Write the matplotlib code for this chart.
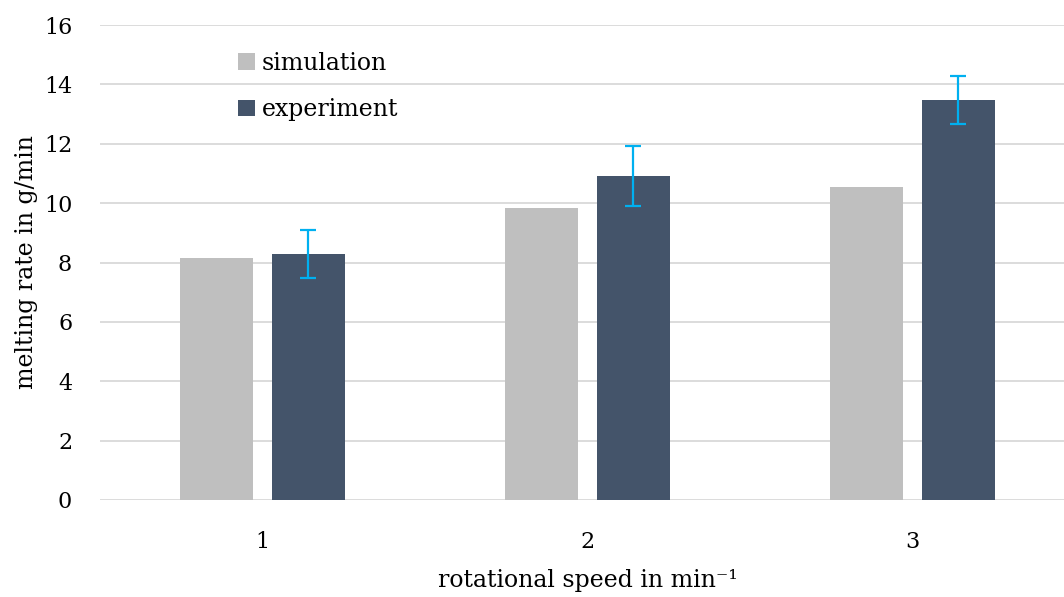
import numpy as np
import matplotlib
matplotlib.use("Agg")
import matplotlib.pyplot as plt
from matplotlib.patches import Rectangle

plt.rcParams['font.family'] = ['DejaVu Serif']

# data
speeds = ["1", "2", "3"]
simulation = [8.15, 9.83, 10.54]
experiment = [8.29, 10.91, 13.47]
exp_err = [0.8, 1.0, 0.8]

fig = plt.figure(figsize=(10.64, 5.97), dpi=100)
ax = fig.add_axes([100 / 1064, 97 / 597, 975 / 1064, 475 / 597])

x = np.arange(1, len(speeds) + 1)
w = 0.222
off = 0.1415
ax.bar(x - off, simulation, w, color="#BFBFBF", label="simulation", zorder=3)
ax.bar(x + off, experiment, w, color="#44546A", label="experiment", zorder=3)
ax.errorbar(x + off, experiment, yerr=exp_err, fmt="none", ecolor="#00B0F0",
            elinewidth=1.6, capsize=6, capthick=1.6, zorder=4)

ax.set_xlim(0.5, 3.5)
ax.set_ylim(0, 16)
ax.set_yticks(np.arange(0, 17, 2))
ax.set_xticks(x)
ax.set_xticklabels(speeds)
ax.grid(axis="y", color="#D9D9D9", linewidth=1.3, zorder=0)
for s in ax.spines.values():
    s.set_visible(False)
ax.tick_params(length=0, labelsize=16)
ax.tick_params(axis="y", pad=20)
ax.tick_params(axis="x", pad=22)

ax.set_ylabel("melting rate in g/min", fontsize=17, labelpad=4)
ax.set_xlabel("rotational speed in min\u207b\u00b9", fontsize=17, labelpad=12)

# white legend area hiding the gridline behind it
ax.add_patch(Rectangle((0.067, 0.80), 0.297, 0.17, transform=ax.transAxes,
                       facecolor="white", edgecolor="none", zorder=1))
leg = ax.legend(loc="upper left", bbox_to_anchor=(0.1415, 0.943), fontsize=17,
                frameon=False, handlelength=0.72, handleheight=0.72,
                handletextpad=0.3, labelspacing=0.98, borderpad=0,
                borderaxespad=0)

fig.savefig("out.png", dpi=100)
